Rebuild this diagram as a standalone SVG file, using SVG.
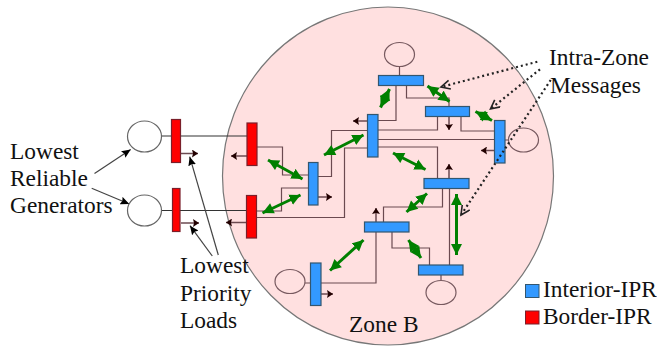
<svg xmlns="http://www.w3.org/2000/svg" width="657" height="346" viewBox="0 0 657 346">
<style>
.wire{fill:none;stroke:#6b4a50;stroke-width:1.2}
.wire2{fill:none;stroke:#333;stroke-width:1.1}
.out{fill:none;stroke:#6b4a50;stroke-width:1.5;marker-end:url(#tri)}
.green{stroke:#008000;stroke-width:3;fill:none;marker-start:url(#gs);marker-end:url(#ge)}
.dot{stroke:#222;stroke-width:2.2;stroke-dasharray:2 3;fill:none;marker-end:url(#open)}
.call{stroke:#444;stroke-width:1.2;fill:none;marker-end:url(#blk)}
.gen{fill:none;stroke:#77595f;stroke-width:1.2}
.genw{fill:#fff;stroke:#666;stroke-width:1.2}
.ipr{fill:#3399ff;stroke:#33566f;stroke-width:1.2}
.bpr{fill:#ff0000;stroke:#7a1f2a;stroke-width:1.2}
text{font-family:"Liberation Serif",serif;font-size:23.4px;fill:#111}
</style>
<defs>
<marker id="tri" markerUnits="userSpaceOnUse" markerWidth="8" markerHeight="8" refX="6" refY="4" orient="auto"><path d="M0 0L6 4L0 8L1 4Z" fill="#200"/></marker>
<marker id="blk" markerUnits="userSpaceOnUse" markerWidth="10" markerHeight="8" refX="9" refY="4" orient="auto"><path d="M0 0L9 4L0 8L1.500 4Z" fill="#000"/></marker>
<marker id="ge" markerUnits="userSpaceOnUse" markerWidth="12" markerHeight="12" refX="11" refY="6" orient="auto"><path d="M0 0.500L11 6L0 11.500Z" fill="#008000"/></marker>
<marker id="gs" markerUnits="userSpaceOnUse" markerWidth="12" markerHeight="12" refX="0" refY="6" orient="auto"><path d="M11 0.500L0 6L11 11.500Z" fill="#008000"/></marker>
<marker id="open" markerUnits="userSpaceOnUse" markerWidth="12" markerHeight="12" refX="10" refY="5" orient="auto"><path d="M1 0.500L10 5L1 9.500" fill="none" stroke="#222" stroke-width="1.6"/></marker>
</defs>
<g id="zone-b"><ellipse cx="388" cy="176" rx="165.500" ry="169" fill="#ffe0e0" stroke="#777" stroke-width="1.2"/><text x="349" y="332">Zone B</text></g>
<g id="connectors">
<path class="wire2" d="M161 136H247M161 210.500H248"/>
<path class="wire" d="M257 147H282.500V175H308M308 188H281.500V211H257M318 176.500H331.500V130.500H367.500M257 217.500H344.500V148H367.500"/>
<path class="wire" d="M396 85V120.500H378M406.500 85V98H449V106M399.500 66V75M437.500 116V130H378M461 116V131H494.500M378 139.500H494.500M378 147H437.500V178M505 140H509"/>
<path class="wire" d="M442.500 188V207H383.500V222M449.500 188V265M392 232V248H429.500V265M376 232V283H321M441 275V280M305 283H310.500"/>
<path class="out" d="M181 153.500H198"/><path class="out" d="M181 223H199"/>
<path class="out" d="M247 156H231"/><path class="out" d="M247 222.500H226"/>
<path class="out" d="M318 197H332"/><path class="out" d="M367.500 121H353"/>
<path class="out" d="M449 116V130"/><path class="out" d="M494.500 150.500H481"/>
<path class="out" d="M449 178V164"/><path class="out" d="M376 222V208"/><path class="out" d="M321 294H333"/>
<path class="green" d="M268 160L302.500 179"/><path class="green" d="M262.500 213L300.500 195"/><path class="green" d="M324 155L363.500 135"/>
<path class="green" d="M380.500 107.500L389.500 89"/><path class="green" d="M427.500 86L449.500 101.500"/><path class="green" d="M475.500 111.500L492 120.500"/>
<path class="green" d="M393 153L425.500 169.500"/><path class="green" d="M406.500 212L427 193.500"/><path class="green" d="M456.500 194V255"/>
<path class="green" d="M408.500 240L421 258"/><path class="green" d="M330 270.500L363.500 240"/>
<path class="call" d="M94.500 173.500L130.700 149.500"/><path class="call" d="M91.700 188.300L129.300 204"/>
<path class="call" d="M218.300 255L189.700 156.700"/><path class="call" d="M212.300 256L190 225.700"/>
</g>
<g id="gen-1"><ellipse class="genw" cx="144.500" cy="136.500" rx="17" ry="15.500"/></g>
<g id="gen-2"><ellipse class="genw" cx="144.500" cy="210.500" rx="17" ry="15.500"/></g>
<g id="gen-3"><ellipse class="gen" cx="399.500" cy="54.500" rx="15" ry="12"/></g>
<g id="gen-4"><ellipse class="gen" cx="523.500" cy="140" rx="15" ry="12"/></g>
<g id="gen-5"><ellipse class="gen" cx="290" cy="281.500" rx="15" ry="12"/></g>
<g id="gen-6"><ellipse class="gen" cx="441" cy="292.500" rx="15" ry="12"/></g>
<g id="border-1"><rect class="bpr" x="171.500" y="119.500" width="9" height="43"/></g>
<g id="border-2"><rect class="bpr" x="172.500" y="188.500" width="7.500" height="43"/></g>
<g id="border-3"><rect class="bpr" x="247" y="123" width="10" height="42.500"/></g>
<g id="border-4"><rect class="bpr" x="246.500" y="195.500" width="10" height="42.500"/></g>
<g id="ipr-1"><rect class="ipr" x="308.500" y="162.500" width="9.500" height="42.500"/></g>
<g id="ipr-2"><rect class="ipr" x="367.500" y="114.500" width="10.500" height="42.500"/></g>
<g id="ipr-3"><rect class="ipr" x="378.500" y="75.500" width="45" height="10"/></g>
<g id="ipr-4"><rect class="ipr" x="425.500" y="106.500" width="44" height="10"/></g>
<g id="ipr-5"><rect class="ipr" x="494.500" y="120.500" width="10.500" height="42.500"/></g>
<g id="ipr-6"><rect class="ipr" x="424" y="178.500" width="45" height="10"/></g>
<g id="ipr-7"><rect class="ipr" x="364.500" y="222" width="44.500" height="10"/></g>
<g id="ipr-8"><rect class="ipr" x="418.500" y="265" width="44.500" height="10"/></g>
<g id="ipr-9"><rect class="ipr" x="310.500" y="263" width="10.500" height="42.500"/></g>
<g id="messages"><path class="dot" d="M537.300 61.700L441 87"/><path class="dot" d="M540 69.300L490.500 109"/><path class="dot" d="M550.700 80L461 215"/></g>
<g id="labels">
<text x="10" y="159">Lowest</text><text x="10" y="186">Reliable</text><text x="10" y="213">Generators</text>
<text x="180" y="273">Lowest</text><text x="180" y="301">Priority</text><text x="180" y="328">Loads</text>
<text x="549" y="65">Intra-Zone</text><text x="550" y="93">Messages</text>
</g>
<g id="legend"><rect x="525.500" y="284.500" width="13.500" height="13" fill="#3399ff" stroke="#33566f"/><text x="543" y="297">Interior-IPR</text>
<rect x="525.500" y="311" width="13.500" height="13" fill="#ff0000" stroke="#7a1f2a"/><text x="543" y="324">Border-IPR</text></g>
</svg>
